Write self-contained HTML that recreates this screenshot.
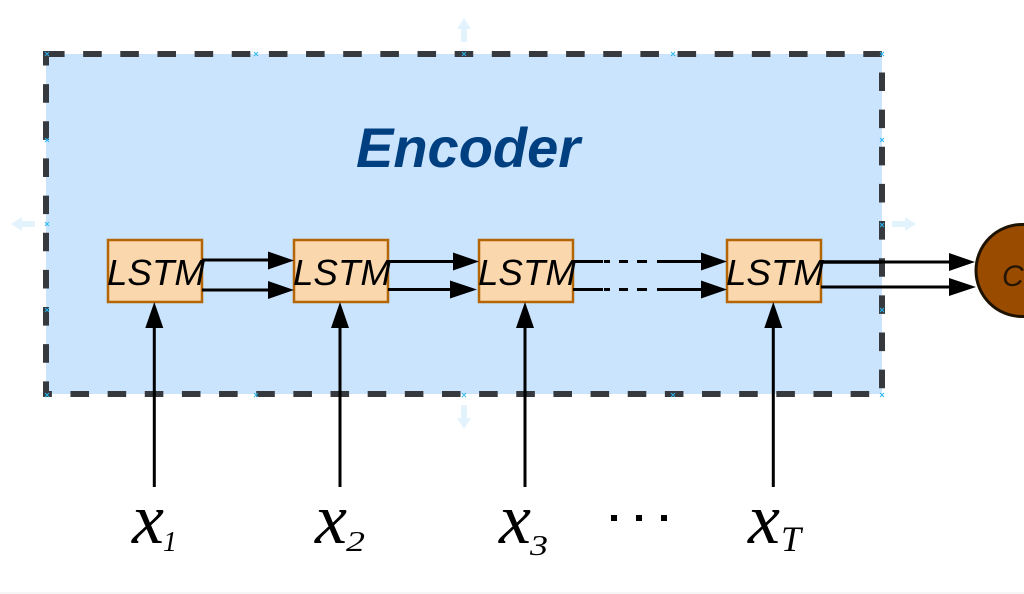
<!DOCTYPE html>
<html>
<head>
<meta charset="utf-8">
<style>
html,body{margin:0;padding:0;background:#fff;width:1024px;height:594px;overflow:hidden}
svg{display:block;filter:blur(0.35px)}
text{font-family:"Liberation Sans",sans-serif}
text.m{font-family:"Liberation Serif",serif;font-style:italic;fill:#000}
.l{font-size:36.5px;font-style:italic;fill:#000}
</style>
</head>
<body>
<svg width="1024" height="594" viewBox="0 0 1024 594" xmlns="http://www.w3.org/2000/svg">
<rect x="0" y="0" width="1024" height="594" fill="#fff"/>
<rect x="0" y="592" width="1024" height="2" fill="#f6f6f6"/>

<!-- faded hover arrows -->
<g fill="#e3f3fd">
<path d="M464 18l7 11h-4v13h-6v-13h-4z"/>
<path d="M464 429l7-11h-4v-13h-6v13h-4z"/>
<path d="M11 224l11-7v4h13v6h-13v4z"/>
<path d="M916 224l-11-7v4h-13v6h13v4z"/>
</g>

<!-- encoder -->
<rect x="46" y="54" width="836" height="340" fill="#cae4fe"/>
<path d="M46 54H882V394H46Z" fill="none" stroke="#36393d" stroke-width="6" stroke-dasharray="18.575 18.575"/>

<!-- connection points -->
<g stroke="#29b6f2" stroke-width="1" fill="none">
<path d="M45 52l4 4m0-4l-4 4M254 52l4 4m0-4l-4 4M462 52l4 4m0-4l-4 4M671 52l4 4m0-4l-4 4M880 52l4 4m0-4l-4 4"/>
<path d="M45 138l4 4m0-4l-4 4M45 222l4 4m0-4l-4 4M45 308l4 4m0-4l-4 4M45 393l4 4m0-4l-4 4"/>
<path d="M880 138l4 4m0-4l-4 4M880 223l4 4m0-4l-4 4M880 308l4 4m0-4l-4 4M880 393l4 4m0-4l-4 4"/>
<path d="M254 393l4 4m0-4l-4 4M462 393l4 4m0-4l-4 4M671 393l4 4m0-4l-4 4"/>
</g>

<text x="356" y="167" font-size="56" font-weight="bold" font-style="italic" fill="#004080">Encoder</text>

<!-- LSTM boxes -->
<g fill="#fad7ac" stroke="#b46504" stroke-width="2.5">
<rect x="108" y="240" width="94" height="62"/>
<rect x="294" y="240" width="94" height="62"/>
<rect x="479" y="240" width="94" height="62"/>
<rect x="727" y="240" width="94" height="62"/>
</g>

<!-- circle -->
<circle cx="1022" cy="270.5" r="46" fill="#994c00" stroke="#1e1200" stroke-width="3"/>
<text x="1002" y="286" font-size="30" font-style="italic" fill="#241505">C</text>

<!-- connector lines -->
<g stroke="#000" stroke-width="3" fill="none">
<path d="M202 260H270M202 290H270"/>
<path d="M388 261.5H455M388 289.5H452"/>
<path d="M573 261.5H603M573 289.5H603"/>
<path d="M604 261.5H610M619 261.5H628M637 261.5H647M604 289.5H610M619 289.5H628M637 289.5H647"/>
<path d="M657 261.5H703M657 289.5H703"/>
<path d="M821 262H951M821 287H951"/>
<path d="M154.3 487V326M340 487V326M525 487V326M773.3 487V326"/>
</g>
<path d="M821 262H882" stroke="#000" stroke-width="3.6"/>

<!-- arrowheads -->
<g fill="#000">
<path d="M294 260.5L268 251.5V269.5Z"/>
<path d="M294 290L268 281V299Z"/>
<path d="M479 261.5L453 252.5V270.5Z"/>
<path d="M477 289.5L450 280.5V298.5Z"/>
<path d="M727 261.5L701 252.5V270.5Z"/>
<path d="M727 289.5L701 280.5V298.5Z"/>
<path d="M975 262L949 253V271Z"/>
<path d="M976 287L949 278V296Z"/>
<path d="M154.3 302L145.3 328H163.3Z"/>
<path d="M340 302L331 328H349Z"/>
<path d="M525 302L516 328H534Z"/>
<path d="M773.3 302L764.3 328H782.3Z"/>
</g>

<!-- LSTM labels -->
<text class="l" x="107" y="285" textLength="98" lengthAdjust="spacingAndGlyphs">LSTM</text>
<text class="l" x="293" y="285" textLength="98" lengthAdjust="spacingAndGlyphs">LSTM</text>
<text class="l" x="478" y="285" textLength="98" lengthAdjust="spacingAndGlyphs">LSTM</text>
<text class="l" x="726" y="285" textLength="98" lengthAdjust="spacingAndGlyphs">LSTM</text>

<!-- input labels -->
<text class="m" x="132" y="543" font-size="72">x</text>
<text class="m" x="163" y="551" font-size="28">1</text>
<text class="m" x="315" y="543" font-size="72">x</text>
<text class="m" x="346" y="551" font-size="28" textLength="19" lengthAdjust="spacingAndGlyphs">2</text>
<text class="m" x="499" y="543" font-size="72">x</text>
<text class="m" x="530" y="555" font-size="28" textLength="18" lengthAdjust="spacingAndGlyphs">3</text>
<text class="m" x="748" y="543" font-size="72">x</text>
<text class="m" x="781" y="551" font-size="36">T</text>

<!-- ellipsis -->
<g fill="#000">
<rect x="611" y="515" width="6" height="6"/>
<rect x="636" y="515" width="6" height="6"/>
<rect x="661" y="515" width="6" height="6"/>
</g>
</svg>
</body>
</html>
